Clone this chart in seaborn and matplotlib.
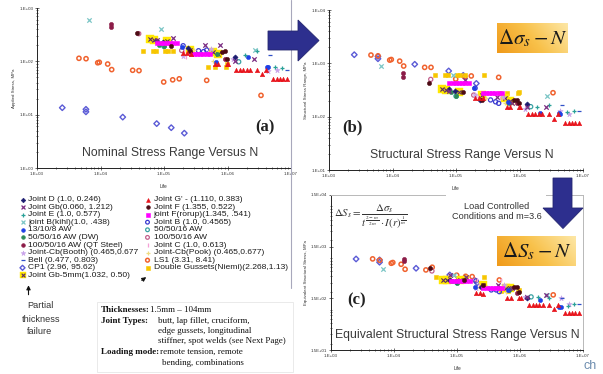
import numpy as np
import matplotlib
matplotlib.use('Agg')
import matplotlib.pyplot as plt
import seaborn as sns
from matplotlib import font_manager
from matplotlib.patches import Polygon, Rectangle
from matplotlib.colors import LinearSegmentedColormap
from matplotlib.ticker import FixedLocator, FixedFormatter, LogLocator, NullFormatter

# ---------------- data (life N, nominal / structural / equivalent stress, MPa) ----------------
x_ticks = [1e3, 1e4, 1e5, 1e6, 1e7]
x_ticklabels = ['1.E+03', '1.E+04', '1.E+05', '1.E+06', '1.E+07']
a_yticks = [1, 10, 100, 1000]
a_yticklabels = ['1.E+00', '1.E+01', '1.E+02', '1.E+03']
b_yticks = [10, 100, 1000, 10000]
b_yticklabels = ['1.E+01', '1.E+02', '1.E+03', '1.E+04']
c_yticks = [15, 150, 1500, 15000]
c_yticklabels = ['1.5E+01', '1.5E+02', '1.5E+03', '1.5E+04']

ls1_life = [4580, 5920, 9040, 9570, 12970, 15000, 32100, 40400, 98900, 137000, 174000, 470000, 3370000]
ls1_nom = [114, 112, 94, 96, 89, 70, 68, 67, 41, 45, 47, 44, 23]
ls1_str = [1430, 1380, 1150, 1180, 1100, 890, 840, 840, 507, 560, 580, 546, 281]
ls1_eq = [870, 820, 716, 740, 685, 548, 532, 600, 420, 400, 395, 340, 175]

cp1_life = [2500, 5900, 5900, 22400, 76700, 130000, 209000]
cp1_nom = [13.5, 12.6, 11.3, 9.0, 6.8, 5.7, 4.5]
cp1_str = [1450, 1350, 1220, 960, 720, 595, 420]
cp1_eq = [867, 830, 750, 573, 425, 340, 300]

dg_life = [46200, 67900, 74800, 104000, 114000, 140000, 273000, 499000, 636000, 946000, 970000]
dg_nom = [158, 158, 158, 158, 158, 158, 158, 79, 79, 77, 89]
dg_str = [603, 603, 603, 603, 603, 603, 603, 274, 274, 274, 293]
dg_eq = [395, 340, 340, 367, 367, 395, 380, 208, 205, 197, 215]

gp_life = [2.0e5, 2.3e5, 2.63e5, 6.3e5, 7.1e5, 9.8e5, 1.02e6, 1.38e6, 1.58e6, 1.78e6, 2.0e6,
           2.29e6, 2.88e6, 3.47e6, 3.98e6, 5.25e6, 6.03e6, 6.76e6, 7.59e6, 8.51e6]
gp_nom = [145, 145, 140, 91, 91, 91, 91, 69, 69, 69, 69, 69, 69, 57, 69, 46, 46, 46, 46, 46]
gp_str = [226, 226, 226, 149, 149, 149, 149, 112, 112, 112, 112, 112, 112, 89, 112, 75, 75, 75, 75, 75]
gp_eq = [190, 190, 185, 155, 155, 155, 155, 112, 112, 112, 112, 112, 112, 95, 112, 77, 77, 77, 77, 77]

fr_life = [7.9e4, 8.9e4, 1.0e5, 1.12e5, 1.26e5, 1.41e5, 1.58e5, 2.63e5, 2.95e5, 3.31e5, 3.72e5, 4.17e5, 4.68e5, 5.25e5]
fr_nom = [220, 220, 220, 220, 220, 220, 220, 140, 140, 140, 140, 140, 140, 140]
fr_str = [425, 425, 425, 425, 425, 425, 425, 272, 272, 272, 272, 272, 272, 272]
fr_eq = [330, 330, 330, 330, 330, 330, 330, 235, 235, 235, 235, 235, 235, 235]

jd_life = [7.8e4, 9.5e4, 2.4e5, 1.3e6]
jd_nom = [240, 233, 176, 120]
jd_str = [325, 306, 206, 170]
jd_eq = [340, 326, 252, 150]

jgb_life = [7.7e4, 1.4e5, 4.5e5, 7.6e5, 1.3e6, 2.6e6]
jgb_nom = [251, 270, 203, 203, 103, 113]
jgb_str = [300, 490, 237, 178, 154, 154]
jgb_eq = [425, 395, 272, 235, 161, 175]

je_life = [1.9e6, 2.9e6, 5.7e6, 7.1e6]
je_nom = [131, 158, 79, 74]
je_str = [154, 165, 124, 130]
je_eq = [161, 150, 108, 115]

jbk_life = [6.7e3, 9.0e4, 2.7e6]
jbk_nom = [596, 398, 163]
jbk_str = [900, 600, 243]
jbk_eq = [560, 425, 175]

aw13_life = [1.9e5, 6.5e5, 2.1e6, 4.2e6, 4.4e6]
aw13_nom = [188, 98, 122, 79, 77]
aw13_str = [343, 190, 118, 118, 110]
aw13_eq = [252, 218, 140, 100, 100]

aw50dw_life = [8.4e4, 1.0e5, 6.8e5]
aw50dw_nom = [203, 190, 137]
aw50dw_str = [293, 243, 178]
aw50dw_eq = [330, 300, 220]

aw100qt_life = [1.44e4, 1.44e4, 9.0e5]
aw100qt_nom = [500, 434, 110]
aw100qt_str = [649, 561, 180]
aw100qt_eq = [867, 790, 190]

cbb_life = [2.0e5, 5.5e5, 1.2e6, 4.4e6, 6.0e6]
cbb_nom = [126, 168, 109, 67, 69]
cbb_str = [254, 237, 142, 130, 110]
cbb_eq = [235, 272, 161, 150, 115]

bell_life = [4.7e6, 8.5e6]
bell_nom = [131, 69]
bell_str = [165, 130]
bell_eq = [150, 115]

jf_life = [3.7e4, 1.3e5, 2.6e5, 8.1e5, 9.1e5, 9.8e5]
jf_nom = [344, 194, 158, 152, 158, 109]
jf_str = [432, 293, 206, 206, 206, 178]
jf_eq = [573, 340, 272, 250, 250, 202]

jb_life = [2.0e5, 3.5e5, 4.2e5, 4.7e5]
jb_nom = [196, 158, 152, 163]
jb_str = [343, 206, 190, 178]
jb_eq = [326, 218, 218, 202]

aw50_life = [1.0e5, 1.5e6]
aw50_nom = [190, 98]
aw50_str = [243, 154]
aw50_eq = [300, 160]

aw100_life = [4.0e4, 1.9e5]
aw100_nom = [330, 160]
aw100_str = [500, 254]
aw100_eq = [508, 340]

jc_life = [2.1e5, 2.2e5, 5.0e5]
jc_nom = [158, 122, 150]
jc_str = [254, 237, 220]
jc_eq = [340, 272, 340]

cbp_life = [3.0e5, 6.0e5]
cbp_nom = [160, 100]
cbp_str = [220, 180]
cbp_eq = [250, 200]

gb5_life = [6.0e4, 7.0e4, 1.1e5, 2.6e5, 6.0e5, 7.0e5]
gb5_nom = [260, 250, 240, 160, 150, 140]
gb5_str = [330, 320, 290, 250, 220, 200]
gb5_eq = [340, 340, 340, 272, 235, 235]

# ---------------- styling ----------------
sns.set_theme(style='white')
names = {f.name for f in font_manager.fontManager.ttflist}
SANS = 'Liberation Sans' if 'Liberation Sans' in names else 'DejaVu Sans'
SERIF = 'Liberation Serif' if 'Liberation Serif' in names else 'DejaVu Serif'
HAS_NARROW = 'Liberation Sans Narrow' in names
NARROW = 'Liberation Sans Narrow' if HAS_NARROW else SANS
NSCALE = 1.0 if HAS_NARROW else 0.84
plt.rcParams['font.family'] = [SANS, 'DejaVu Sans']
plt.rcParams['mathtext.fontset'] = 'stix'


def filled(c, m='o', s=9):
    return [dict(marker=m, s=s, color=c, edgecolor=c, linewidth=0.4)]


def hollow(c, m='o', s=9, lw=0.9):
    return [dict(marker=m, s=s, facecolor='none', edgecolor=c, linewidth=lw)]


def stroke(c, m, s=10, lw=0.9):
    return [dict(marker=m, s=s, color=c, linewidth=lw)]


SERIES = [
    ("CP1 (2.96, 95.62)", cp1_life, cp1_nom, cp1_str, cp1_eq, hollow('#5b5bd6', 'D', 8, 1.0)),
    ("LS1 (3.31, 8.41)", ls1_life, ls1_nom, ls1_str, ls1_eq, hollow('#f0622e', 'o', 9, 1.1)),
    ("Double Gussets(Niemi)(2.268,1.13)", dg_life, dg_nom, dg_str, dg_eq, filled('#f7c600', 's', 11)),
    ("Joint Gb-5mm(1.032, 0.50)", gb5_life, gb5_nom, gb5_str, gb5_eq,
     [dict(marker='s', s=26, color='#ffe800', edgecolor='#ffe800', linewidth=0.3),
      dict(marker='x', s=9, color='#5a2a6a', linewidth=0.8)]),
    ("joint B(kihl)(1.0, .438)", jbk_life, jbk_nom, jbk_str, jbk_eq, stroke('#7cc6c6', 'x')),
    ("100/50/16 AW (QT Steel)", aw100qt_life, aw100qt_nom, aw100qt_str, aw100qt_eq, filled('#8c1c48')),
    ("100/50/16 AW", aw100_life, aw100_nom, aw100_str, aw100_eq, hollow('#c2608c')),
    ("50/50/16 AW", aw50_life, aw50_nom, aw50_str, aw50_eq, hollow('#3aa3a3')),
    ("Joint B (1.0, 0.4565)", jb_life, jb_nom, jb_str, jb_eq, hollow('#3b3bd0')),
    ("Joint C (1.0, 0.613)", jc_life, jc_nom, jc_str, jc_eq, stroke('#f59fd6', '|', 12)),
    ("Joint-Cb(Pook) (0.465,0.677)", cbp_life, cbp_nom, cbp_str, cbp_eq, stroke('#eedc80', '+')),
    ("Joint-Cb(Booth) (0.465,0.677", cbb_life, cbb_nom, cbb_str, cbb_eq, filled('#c8a2ea', '*', 16)),
    ("50/50/16 AW (DW)", aw50dw_life, aw50dw_nom, aw50dw_str, aw50dw_eq, filled('#2e8b5a')),
    ("13/10/8 AW", aw13_life, aw13_nom, aw13_str, aw13_eq, filled('#1f40e6')),
    ("Bell (0.477, 0.803)", bell_life, bell_nom, bell_str, bell_eq, stroke('#3050c8', '_')),
    ("Joint E (1.0, 0.577)", je_life, je_nom, je_str, je_eq, stroke('#2aa198', '+')),
    ("Joint D (1.0, 0.246)", jd_life, jd_nom, jd_str, jd_eq, filled('#1c1c70', 'D', 7)),
    ("Joint Gb(0.060, 1.212)", jgb_life, jgb_nom, jgb_str, jgb_eq, stroke('#7b2d82', 'x')),
    ("joint F(rorup)(1.345, .541)", fr_life, fr_nom, fr_str, fr_eq, filled('#ff00ff', 's', 9)),
    ("Joint F (1.355, 0.522)", jf_life, jf_nom, jf_str, jf_eq, filled('#4d0b14')),
    ("Joint G' - (1.110, 0.383)", gp_life, gp_nom, gp_str, gp_eq, filled('#e8141c', '^', 10)),
]
STYLE = {s[0]: s[5] for s in SERIES}

legend_left = ["Joint D (1.0, 0.246)", "Joint Gb(0.060, 1.212)", "Joint E (1.0, 0.577)",
               "joint B(kihl)(1.0, .438)", "13/10/8 AW", "50/50/16 AW (DW)", "100/50/16 AW (QT Steel)",
               "Joint-Cb(Booth) (0.465,0.677", "Bell (0.477, 0.803)", "CP1 (2.96, 95.62)",
               "Joint Gb-5mm(1.032, 0.50)"]
legend_right = ["Joint G' - (1.110, 0.383)", "Joint F (1.355, 0.522)", "joint F(rorup)(1.345, .541)",
                "Joint B (1.0, 0.4565)", "50/50/16 AW", "100/50/16 AW", "Joint C (1.0, 0.613)",
                "Joint-Cb(Pook) (0.465,0.677)", "LS1 (3.31, 8.41)", "Double Gussets(Niemi)(2.268,1.13)"]

W, H = 603, 374
fig = plt.figure(figsize=(W / 100, H / 100), dpi=100)
fig.patch.set_facecolor('white')


def rect(x0, y0, x1, y1):
    return [x0 / W, 1 - y1 / H, (x1 - x0) / W, (y1 - y0) / H]


axA = fig.add_axes(rect(37, 8, 291, 168))
axB = fig.add_axes(rect(329, 10, 583, 170))
axC = fig.add_axes(rect(331, 195, 583, 350))


def setup(ax, ylim, yt, ytl, ylabel, box=False):
    ax.set_xscale('log')
    ax.set_yscale('log')
    ax.set_xlim(1e3, 1e7)
    ax.set_ylim(*ylim)
    ax.xaxis.set_major_locator(FixedLocator(x_ticks))
    ax.xaxis.set_major_formatter(FixedFormatter(x_ticklabels))
    ax.yaxis.set_major_locator(FixedLocator(yt))
    ax.yaxis.set_major_formatter(FixedFormatter(ytl))
    for axis in (ax.xaxis, ax.yaxis):
        axis.set_minor_locator(LogLocator(base=10, subs=np.arange(2, 10)))
        axis.set_minor_formatter(NullFormatter())
    ax.set_facecolor('none')
    for s in ['left', 'bottom']:
        ax.spines[s].set_color('#222222')
        ax.spines[s].set_linewidth(0.7)
    for s in ['top', 'right']:
        if box:
            ax.spines[s].set_color('#b8b8b8')
            ax.spines[s].set_linewidth(0.7)
        else:
            ax.spines[s].set_visible(False)
    ax.tick_params(which='both', bottom=True, left=True, top=False, right=False,
                   direction='inout', labelsize=3.2, colors='#333333', pad=1.2, width=0.5)
    ax.tick_params(which='major', length=3)
    ax.tick_params(which='minor', length=1.5)
    ax.set_xlabel('Life', fontsize=3.4, labelpad=6, color='#333333')
    ax.set_ylabel(ylabel, fontsize=3.2, labelpad=2, color='#333333')


setup(axA, (1, 1000), a_yticks, a_yticklabels, 'Applied Stress, MPa')
setup(axB, (10, 10000), b_yticks, b_yticklabels, 'Structural Stress Range, MPa')
setup(axC, (15, 15000), c_yticks, c_yticklabels, 'Equivalent Structural Stress, MPa', box=True)

for label, life, nom, st, eq, layers in SERIES:
    for ax, vals in ((axA, nom), (axB, st), (axC, eq)):
        for kw in layers:
            sns.scatterplot(x=life, y=vals, ax=ax, legend=False, zorder=3, **kw)

# ---------------- overlay (pixel coordinates) ----------------
ov = fig.add_axes([0, 0, 1, 1], zorder=20)
ov.set_xlim(0, W)
ov.set_ylim(H, 0)
ov.axis('off')
ov.patch.set_alpha(0)

ov.plot([290.5, 290.5], [0, 288], color='#a8a8bc', lw=0.8)

tkw = dict(family=[NARROW, 'DejaVu Sans'], color='#3a3a3a', ha='center', va='center')
ov.text(170.5, 153, 'Nominal Stress Range Versus N', fontsize=10.5 * NSCALE, **tkw)
ov.text(462, 155, 'Structural Stress Range Versus N', fontsize=10.5 * NSCALE, **tkw)
ov.text(457.5, 335, 'Equivalent Structural Stress Range Versus N', fontsize=10.5 * NSCALE, **tkw)
skw = dict(family=[SERIF, 'DejaVu Serif'], fontweight='bold', fontsize=12, color='#222222',
           ha='center', va='center')
ov.text(265, 127, '(a)', **skw)
ov.text(352, 127, '(b)', **skw)
ov.text(357, 300, '(c)', **skw)

# "Load Controlled" note (white box hides part of the frame)
ov.add_patch(Rectangle((446, 193), 100, 32, fc='white', ec='none', zorder=1))
ov.text(497, 211.5, 'Load Controlled\nConditions and m=3.6', fontsize=7.8 * NSCALE,
        family=[NARROW, 'DejaVu Sans'], color='#333333', ha='center', va='center',
        linespacing=1.15, zorder=2)

# formula
ov.text(334, 217, r'$\Delta S_s=\dfrac{\Delta\sigma_s}{t^{\frac{2-m}{2m}}\cdot I(r)^{\frac{1}{m}}}$',
        fontsize=7.8, color='#333333', ha='left', va='center', zorder=2)

# arrows
arrow_c = '#2d2f8e'
ov.add_patch(Polygon([(268, 31), (298, 31), (298, 20), (319, 40.5), (298, 61), (298, 50), (268, 50)],
                     closed=True, fc=arrow_c, ec='#24266f', lw=0.6, zorder=3))
ov.add_patch(Polygon([(553, 178), (572, 178), (572, 208), (583, 208), (563, 228.5), (543, 208), (553, 208)],
                     closed=True, fc=arrow_c, ec='#24266f', lw=0.6, zorder=3))

# gradient labels
cmap = LinearSegmentedColormap.from_list('g', ['#f09a1a', '#f8c14a', '#fde7a6'])
gx, gy = np.meshgrid(np.linspace(0, 1, 80), np.linspace(0, 1, 40))
grad = 0.75 * gx + 0.25 * (1 - gy)
for (x0, y0, x1, y1), txt in (((497, 23, 568, 53), r'$\Delta\sigma_s - N$'),
                              ((497, 236, 576, 266), r'$\Delta S_s - N$')):
    gax = fig.add_axes(rect(x0, y0, x1, y1), zorder=25)
    gax.imshow(grad, cmap=cmap, aspect='auto', extent=(0, 1, 0, 1), origin='upper')
    gax.axis('off')
    gax.text(0.5, 0.48, txt, transform=gax.transAxes, fontsize=15, color='#1a1a1a',
             ha='center', va='center')

# legend (manual, pixel positions)
rows = [199.5, 207, 214.6, 222.2, 229.8, 237.4, 245, 252.6, 260.2, 267.8, 275.4]
for col, (mx, tx) in ((legend_left, (22.5, 28.5)), (legend_right, (147.5, 153.5))):
    for lab, yy in zip(col, rows):
        for kw in STYLE[lab]:
            k = dict(kw)
            k['s'] = k['s'] * 0.8
            ov.scatter([mx], [yy], zorder=4, **k)
        ov.text(tx, yy, lab, fontsize=6.1, color='#1a1a1a', ha='left', va='center',
                family=[SANS, 'DejaVu Sans'])

# partial thickness failure note and pointers
nkw = dict(family=[NARROW, 'DejaVu Sans'], fontsize=7.8 * NSCALE, color='#333333', ha='center', va='center')
ov.text(40, 306, 'Partial', **nkw)
ov.text(41.5, 319.5, 'thickness', **nkw)
ov.text(40, 332, 'failure', **nkw)
ov.annotate('', xy=(28.5, 282.5), xytext=(28.5, 297.5),
            arrowprops=dict(arrowstyle='-|>', color='#111111', lw=0.8, mutation_scale=6))
ov.annotate('', xy=(148.5, 275.5), xytext=(139.5, 282),
            arrowprops=dict(arrowstyle='-|>', color='#111111', lw=0.8, mutation_scale=6))

# info box
ov.add_patch(Rectangle((97, 302), 196, 70, fc='white', ec='#e2e2e2', lw=0.5, zorder=1))
bkw = dict(family=[SERIF, 'DejaVu Serif'], fontsize=6.5, color='#111111', ha='left', va='center', zorder=2)
ov.text(101, 310, 'Thicknesses:', fontweight='bold', **bkw)
ov.text(150, 310, '1.5mm \u2013 104mm', **bkw)
ov.text(101, 320.7, 'Joint Types:', fontweight='bold', **bkw)
ov.text(158.3, 320.7, 'butt, lap fillet, cruciform,', **bkw)
ov.text(158.3, 330.8, 'edge gussets, longitudinal', **bkw)
ov.text(158.3, 341.2, 'stiffner, spot welds (see Next Page)', **bkw)
ov.text(101, 351.7, 'Loading mode:', fontweight='bold', **bkw)
ov.text(159.5, 351.7, 'remote tension, remote', **bkw)
ov.text(161.7, 362.7, 'bending, combinations', **bkw)

ov.text(584, 366, 'ch', fontsize=9, color='#6c8cae', ha='left', va='center')

fig.savefig('out.png', dpi=100, facecolor='white')
